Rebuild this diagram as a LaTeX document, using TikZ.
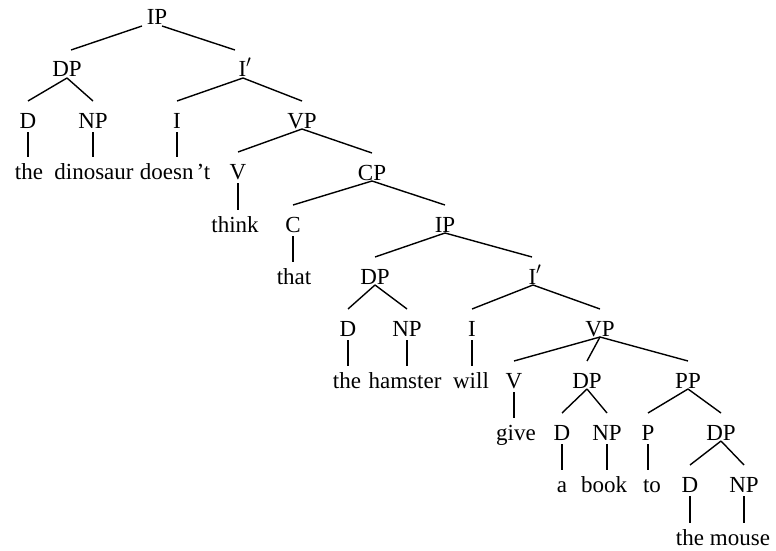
\documentclass[tikz,border=0pt]{standalone}
\usepackage{fontspec}
\setmainfont{Liberation Serif}
\begin{document}
\begin{tikzpicture}[x=1pt,y=-1pt,
  lbl/.style={anchor=base,inner sep=0pt,outer sep=0pt,text height=27pt,text depth=1pt,font=\fontsize{23pt}{27pt}\selectfont},
  wrd/.style={lbl,text height=22pt},
  br/.style={line width=1.4pt,black},
  lf/.style={line width=1.8pt,black}]
\useasboundingbox[fill=white] (0,0) rectangle (776,551);
% row 0
\node[lbl] (ip0) at (157,25) {IP};
% row 1
\node[lbl] (dp1) at (67,77) {DP};
\node[lbl] (ib1) at (245,77) {I$'$};
% row 2
\node[lbl] (d1) at (28,128) {D};
\node[lbl] (np1) at (93,128) {NP};
\node[lbl] (i1) at (177,128) {I};
\node[lbl] (vp1) at (302,128) {VP};
% row 3
\node[wrd] (the1) at (29,179) {the};
\node[wrd] (dino) at (94,179) {dinosaur};
\node[wrd] (doesnt) at (175,179) {doesn\kern3pt’t};
\node[lbl] (v1) at (238,179) {V};
\node[lbl] (cp) at (372,180) {CP};
% row 4
\node[wrd] (think) at (235,232) {think};
\node[lbl] (c) at (293,232) {C};
\node[lbl] (ip2) at (445,232) {IP};
% row 5
\node[wrd] (that) at (294,284) {that};
\node[lbl] (dp2) at (375,284) {DP};
\node[lbl] (ib2) at (535,284) {I$'$};
% row 6
\node[lbl] (d2) at (348,336) {D};
\node[lbl] (np2) at (407,336) {NP};
\node[lbl] (i2) at (472,336) {I};
\node[lbl] (vp2) at (600,336) {VP};
% row 7
\node[wrd] (the2) at (347,388) {the};
\node[wrd] (hamster) at (405,388) {hamster};
\node[wrd] (will) at (471,388) {will};
\node[lbl] (v2) at (514,388) {V};
\node[lbl] (dp3) at (587,388) {DP};
\node[lbl] (pp) at (688,388) {PP};
% row 8
\node[wrd] (give) at (516,440) {give};
\node[lbl] (d3) at (562,440) {D};
\node[lbl] (np3) at (607,440) {NP};
\node[lbl] (p) at (648,440) {P};
\node[lbl] (dp4) at (721,440) {DP};
% row 9
\node[wrd] (a) at (562,492) {a};
\node[wrd] (book) at (604,492) {book};
\node[wrd] (to) at (652,492) {to};
\node[lbl] (d4) at (690,492) {D};
\node[lbl] (np4) at (744,492) {NP};
% row 10
\node[wrd] (the3) at (690,545) {the};
\node[wrd] (mouse) at (740,545) {mouse};
% branches
\draw[br] ([xshift=-15pt]ip0.south) -- ([xshift=4pt]dp1.north);
\draw[br] ([xshift=5pt]ip0.south) -- ([xshift=-10pt]ib1.north);
\draw[br] (dp1.south) -- (d1.north);
\draw[br] (dp1.south) -- (np1.north);
\draw[br] ([xshift=-2pt]ib1.south) -- (i1.north);
\draw[br] ([xshift=-2pt]ib1.south) -- (vp1.north);
\draw[br] (vp1.south) -- (v1.north);
\draw[br] (vp1.south) -- (cp.north);
\draw[br] (cp.south) -- (c.north);
\draw[br] (cp.south) -- (ip2.north);
\draw[br] (ip2.south) -- (dp2.north);
\draw[br] (ip2.south) -- ([xshift=-3pt]ib2.north);
\draw[br] (dp2.south) -- (d2.north);
\draw[br] (dp2.south) -- (np2.north);
\draw[br] ([xshift=-2pt]ib2.south) -- (i2.north);
\draw[br] ([xshift=-2pt]ib2.south) -- (vp2.north);
\draw[br] (vp2.south) -- (v2.north);
\draw[br] (vp2.south) -- (dp3.north);
\draw[br] (vp2.south) -- (pp.north);
\draw[br] (dp3.south) -- (d3.north);
\draw[br] (dp3.south) -- (np3.north);
\draw[br] (pp.south) -- (p.north);
\draw[br] (pp.south) -- (dp4.north);
\draw[br] (dp4.south) -- (d4.north);
\draw[br] (dp4.south) -- (np4.north);
% vertical leaf lines
\draw[lf] ([yshift=-3pt]d1.south) -- (d1.south |- the1.north);
\draw[lf] ([yshift=-3pt]np1.south) -- (np1.south |- dino.north);
\draw[lf] ([yshift=-3pt]i1.south) -- (i1.south |- doesnt.north);
\draw[lf] ([yshift=-3pt]v1.south) -- (v1.south |- think.north);
\draw[lf] ([yshift=-3pt]c.south) -- (c.south |- that.north);
\draw[lf] ([yshift=-3pt]d2.south) -- (d2.south |- the2.north);
\draw[lf] ([yshift=-3pt]np2.south) -- (np2.south |- hamster.north);
\draw[lf] ([yshift=-3pt]i2.south) -- (i2.south |- will.north);
\draw[lf] ([yshift=-3pt]v2.south) -- (v2.south |- give.north);
\draw[lf] ([yshift=-3pt]d3.south) -- (d3.south |- a.north);
\draw[lf] ([yshift=-3pt]np3.south) -- (np3.south |- book.north);
\draw[lf] ([yshift=-3pt]p.south) -- (p.south |- to.north);
\draw[lf] ([yshift=-3pt]d4.south) -- (d4.south |- the3.north);
\draw[lf] ([yshift=-3pt]np4.south) -- (np4.south |- mouse.north);
\end{tikzpicture}
\end{document}
